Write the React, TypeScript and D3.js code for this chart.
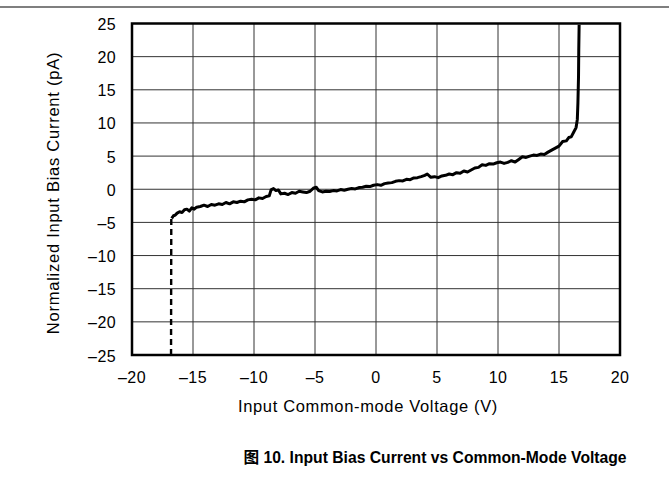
import React, { useEffect, useRef } from "react";
import * as d3 from "d3";

// input common-mode voltage (V) and normalized bias current (pA)
const volts = [
  -16.75, -16.6, -16.45, -16.3, -16.1, -15.9, -15.7, -15.5, -15.3, -15.1,
  -14.9, -14.7, -14.4, -14.1, -13.8, -13.5, -13.2, -12.9, -12.6, -12.3,
  -12.0, -11.7, -11.4, -11.1, -10.8, -10.5, -10.2, -9.9, -9.6, -9.3,
  -9.0, -8.75, -8.6, -8.4, -8.2, -8.0, -7.8, -7.5, -7.2, -6.9,
  -6.6, -6.3, -6.0, -5.7, -5.4, -5.1, -4.9, -4.7, -4.4, -4.1,
  -3.8, -3.5, -3.2, -2.9, -2.6, -2.3, -2.0, -1.7, -1.4, -1.1,
  -0.8, -0.5, -0.2, 0.1, 0.4, 0.7, 1.0, 1.3, 1.6, 1.9,
  2.2, 2.5, 2.8, 3.1, 3.4, 3.7, 4.0, 4.2, 4.5, 4.8,
  5.1, 5.4, 5.7, 6.0, 6.3, 6.6, 6.9, 7.2, 7.5, 7.8,
  8.1, 8.4, 8.7, 9.0, 9.3, 9.6, 9.9, 10.2, 10.5, 10.8,
  11.1, 11.4, 11.7, 12.0, 12.3, 12.6, 12.9, 13.2, 13.5, 13.8,
  14.1, 14.4, 14.7, 15.0, 15.3, 15.6, 15.8, 16.0, 16.2, 16.4,
  16.5, 16.55, 16.6, 16.62, 16.65,
];
const biasCurrent = [
  -4.4, -4.0, -3.9, -3.6, -3.4, -3.5, -3.1, -3.0, -3.3, -2.8,
  -3.0, -2.7, -2.6, -2.4, -2.6, -2.3, -2.4, -2.2, -2.3, -2.0,
  -2.2, -1.9, -2.0, -1.8, -1.9, -1.6, -1.5, -1.6, -1.3, -1.4,
  -1.1, -1.0, -0.1, 0.1, -0.2, -0.1, -0.7, -0.6, -0.8, -0.5,
  -0.6, -0.3, -0.4, -0.5, -0.3, 0.2, 0.3, -0.2, -0.4, -0.3,
  -0.35, -0.2, -0.25, -0.05, -0.15, 0.0, 0.1, 0.05, 0.25, 0.3,
  0.45, 0.4, 0.6, 0.7, 0.6, 0.85, 0.95, 1.0, 1.2, 1.3,
  1.25, 1.5, 1.45, 1.7, 1.75, 1.9, 2.1, 2.3, 1.8, 1.9,
  1.75, 2.0, 2.1, 2.3, 2.2, 2.5, 2.4, 2.75, 2.6, 2.9,
  3.2, 3.3, 3.7, 3.6, 3.85, 3.8, 4.0, 4.1, 3.9, 4.05,
  4.3, 4.1, 4.5, 4.9, 4.8, 5.0, 5.15, 5.1, 5.3, 5.25,
  5.6, 5.9, 6.2, 6.5, 7.2, 7.3, 7.8, 7.9, 8.6, 9.3,
  10.5, 13, 17, 21, 24.8,
];
// dashed drop at the negative rail
const railVolts = [-16.8, -16.78];
const railCurrent = [-25, -4.5];

const xTicks = [-20, -15, -10, -5, 0, 5, 10, 15, 20];
const yTicks = [-25, -20, -15, -10, -5, 0, 5, 10, 15, 20, 25];

const W = 669;
const H = 498;
const fmt = (v: number) => (v < 0 ? "\u2013" + Math.abs(v) : String(v));

export default function App() {
  const svgRef = useRef<SVGSVGElement>(null);

  useEffect(() => {
    const svg = d3.select(svgRef.current);
    svg.selectAll("*").remove();

    const left = 132, right = 620, top = 23.5, bottom = 355;
    const x = d3.scaleLinear().domain([-20, 20]).range([left, right]);
    const y = d3.scaleLinear().domain([-25, 25]).range([bottom, top]);
    const font = "'Liberation Sans', Arial, sans-serif";

    svg.append("rect").attr("width", W).attr("height", H).attr("fill", "#fff");

    // rule at the top of the page
    svg.append("line")
      .attr("x1", 0).attr("x2", W).attr("y1", 7).attr("y2", 7)
      .attr("stroke", "#000").attr("stroke-width", 1.2);

    // grid
    svg.append("g").selectAll("line").data(xTicks.slice(1, -1)).join("line")
      .attr("x1", (d) => x(d)).attr("x2", (d) => x(d))
      .attr("y1", top).attr("y2", bottom)
      .attr("stroke", "#333").attr("stroke-width", 1);
    svg.append("g").selectAll("line").data(yTicks.slice(1, -1)).join("line")
      .attr("x1", left).attr("x2", right)
      .attr("y1", (d) => y(d)).attr("y2", (d) => y(d))
      .attr("stroke", "#333").attr("stroke-width", 1);

    // tick labels
    svg.append("g").selectAll("text").data(yTicks).join("text")
      .attr("x", 116).attr("y", (d) => y(d) + 6.5)
      .attr("text-anchor", "end")
      .attr("font-family", font).attr("font-size", 16)
      .attr("letter-spacing", 0.4)
      .text((d) => fmt(d));
    svg.append("g").selectAll("text").data(xTicks).join("text")
      .attr("x", (d) => x(d)).attr("y", 383)
      .attr("text-anchor", "middle")
      .attr("font-family", font).attr("font-size", 16)
      .attr("letter-spacing", 0.4)
      .text((d) => fmt(d));

    // axis titles
    svg.append("text")
      .attr("x", 368).attr("y", 412)
      .attr("text-anchor", "middle")
      .attr("font-family", font).attr("font-size", 16.5)
      .attr("letter-spacing", 0.65)
      .text("Input Common-mode Voltage (V)");
    svg.append("text")
      .attr("transform", `translate(59,193) rotate(-90)`)
      .attr("text-anchor", "middle")
      .attr("font-family", font).attr("font-size", 16.5)
      .attr("letter-spacing", 0.75)
      .text("Normalized Input Bias Current (pA)");

    const line = d3.line<number>()
      .x((_, i) => x(volts[i]))
      .y((d) => y(d));

    svg.append("path")
      .datum(biasCurrent)
      .attr("fill", "none")
      .attr("stroke", "#000")
      .attr("stroke-width", 3)
      .attr("stroke-linejoin", "round")
      .attr("d", line);

    const railLine = d3.line<number>()
      .x((_, i) => x(railVolts[i]))
      .y((d) => y(d));
    svg.append("path")
      .datum(railCurrent)
      .attr("fill", "none")
      .attr("stroke", "#000")
      .attr("stroke-width", 2.4)
      .attr("stroke-dasharray", "6,4")
      .attr("d", railLine);

    // frame
    svg.append("rect")
      .attr("x", left).attr("y", top)
      .attr("width", right - left).attr("height", bottom - top)
      .attr("fill", "none").attr("stroke", "#000").attr("stroke-width", 2.5);

    // caption
    svg.append("text")
      .attr("x", 435).attr("y", 463)
      .attr("text-anchor", "middle")
      .attr("font-family", "'Liberation Sans', Arial, 'Noto Sans CJK SC', sans-serif")
      .attr("font-weight", 700).attr("font-size", 15.7)
      .text("图 10. Input Bias Current vs Common-Mode Voltage");
  }, []);

  return (
    <div style={{ position: "absolute", left: 0, top: 0 }}>
      <svg ref={svgRef} width={W} height={H} style={{ display: "block" }} />
    </div>
  );
}
